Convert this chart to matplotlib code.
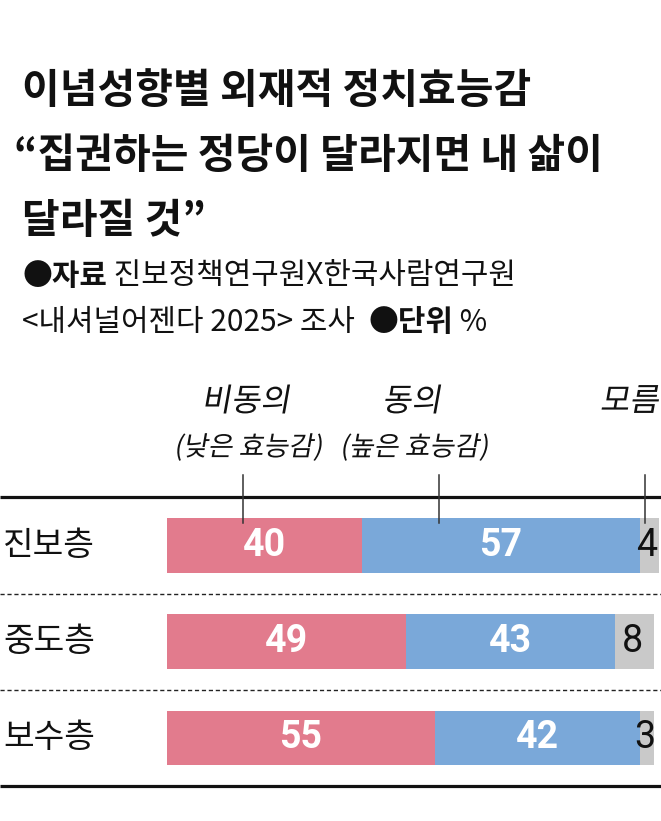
import matplotlib
matplotlib.use("Agg")
import matplotlib.pyplot as plt
import matplotlib.transforms as mtransforms
from matplotlib.font_manager import FontProperties
from matplotlib.textpath import TextPath
from matplotlib.patches import PathPatch

plt.rcParams["font.family"] = ["Noto Sans CJK KR", "DejaVu Sans"]

# data
groups = ["진보층", "중도층", "보수층"]
disagree = [40, 49, 55]   # 비동의 (낮은 효능감)
agree = [57, 43, 42]      # 동의 (높은 효능감)
unknown = [4, 8, 3]       # 모름

title_lines = ["이념성향별 외재적 정치효능감",
               "“집권하는 정당이 달라지면 내 삶이",
               "달라질 것”"]

RED = "#E27B8D"
BLUE = "#7AA8D9"
GRAY = "#C9C9C9"
INK = "#111111"

W, H = 661, 821
DPI = 100
fig = plt.figure(figsize=(W / DPI, H / DPI), dpi=DPI)


def fx(px):
    return px / W


def fy(py):
    return 1 - py / H


# plot area: x from bar start to right edge, y between the two thick rules
ax = fig.add_axes([fx(167), fy(786), fx(661) - fx(167), fy(497) - fy(786)])
ax.set_xlim(0, 101.4)
ax.set_ylim(2.5, -0.505)
ax.axis("off")

ys = list(range(len(groups)))
bh = 0.57
ax.barh(ys, disagree, height=bh, color=RED)
ax.barh(ys, agree, left=disagree, height=bh, color=BLUE)
left3 = [a + b for a, b in zip(disagree, agree)]
ax.barh(ys, unknown, left=left3, height=bh, color=GRAY)

row_tr = mtransforms.blended_transform_factory(fig.transFigure, ax.transData)
num_family = ["Roboto", "DejaVu Sans"]
for i in ys:
    ax.text(disagree[i] / 2, i, str(disagree[i]), ha="center", va="center",
            color="white", family=num_family, fontsize=27, fontweight="bold")
    ax.text(disagree[i] + agree[i] / 2, i, str(agree[i]), ha="center",
            va="center", color="white", family=num_family, fontsize=27,
            fontweight="bold")
    ax.text(left3[i] + unknown[i] / 2 - 0.5, i, str(unknown[i]), ha="center",
            va="center", color=INK, family=num_family, fontsize=27)
    fig.text(fx(3), i, groups[i], fontsize=24, va="center", ha="left",
             transform=row_tr, color=INK)

# rules
for yy in [-0.505, 2.5]:
    ax.plot([0, 1], [yy, yy], transform=row_tr, color=INK, lw=2.3,
            clip_on=False, solid_capstyle="butt")
for yy in [0.5, 1.5]:
    ax.plot([0, 1], [yy, yy], transform=row_tr, color="#222222", lw=1.0,
            dashes=(3, 2), clip_on=False)

# pointer ticks from header labels into the first bar
for xx in [15.6, 55.9, 98.2]:
    ax.plot([xx, xx], [-0.735, -0.23], color="#333333", lw=1.1, clip_on=False)


# slanted header labels
def italic_text(s, x_px, y_px, size_px, ha="center"):
    fp = FontProperties(family="Noto Sans CJK KR")
    tp = TextPath((0, 0), s, size=size_px, prop=fp)
    ext = tp.get_extents()
    if ha == "center":
        dx = x_px - (ext.x0 + ext.x1) / 2
    elif ha == "right":
        dx = x_px - ext.x1
    else:
        dx = x_px - ext.x0
    dy = (H - y_px) - (ext.y0 + ext.y1) / 2
    tr = (mtransforms.Affine2D().skew_deg(10, 0).translate(dx, dy)
          .scale(1 / DPI) + fig.dpi_scale_trans)
    fig.patches.append(PathPatch(tp, transform=tr, facecolor=INK,
                                 edgecolor="none", figure=fig))


italic_text("비동의", 245, 399, 32)
italic_text("동의", 410, 399, 32)
italic_text("모름", 657, 399, 32, ha="right")
italic_text("(낮은 효능감)", 248, 447, 27)
italic_text("(높은 효능감)", 414, 447, 27)

# title
for k, line in enumerate(title_lines):
    xpos = 14 if line.startswith("“") else 22
    fig.text(fx(xpos), fy(91 + 65 * k), line, fontsize=29.5, fontweight="heavy",
             va="center", ha="left", color=INK)

# source / unit lines, mixed weights
renderer = fig.canvas.get_renderer()


def run(parts, x_px, y_px, size):
    x = x_px
    for s, wt in parts:
        t = fig.text(fx(x), fy(y_px), s, fontsize=size, fontweight=wt,
                     va="center", ha="left", color=INK)
        x += t.get_window_extent(renderer=renderer).width


run([("●자료", "bold"), (" 진보정책연구원X한국사람연구원", "normal")], 22, 276, 21.5)
run([("<내셔널어젠다 2025> 조사  ", "normal"), ("●단위", "bold"), (" %", "normal")],
    22, 322, 21.5)

fig.savefig("out.png", dpi=DPI)
